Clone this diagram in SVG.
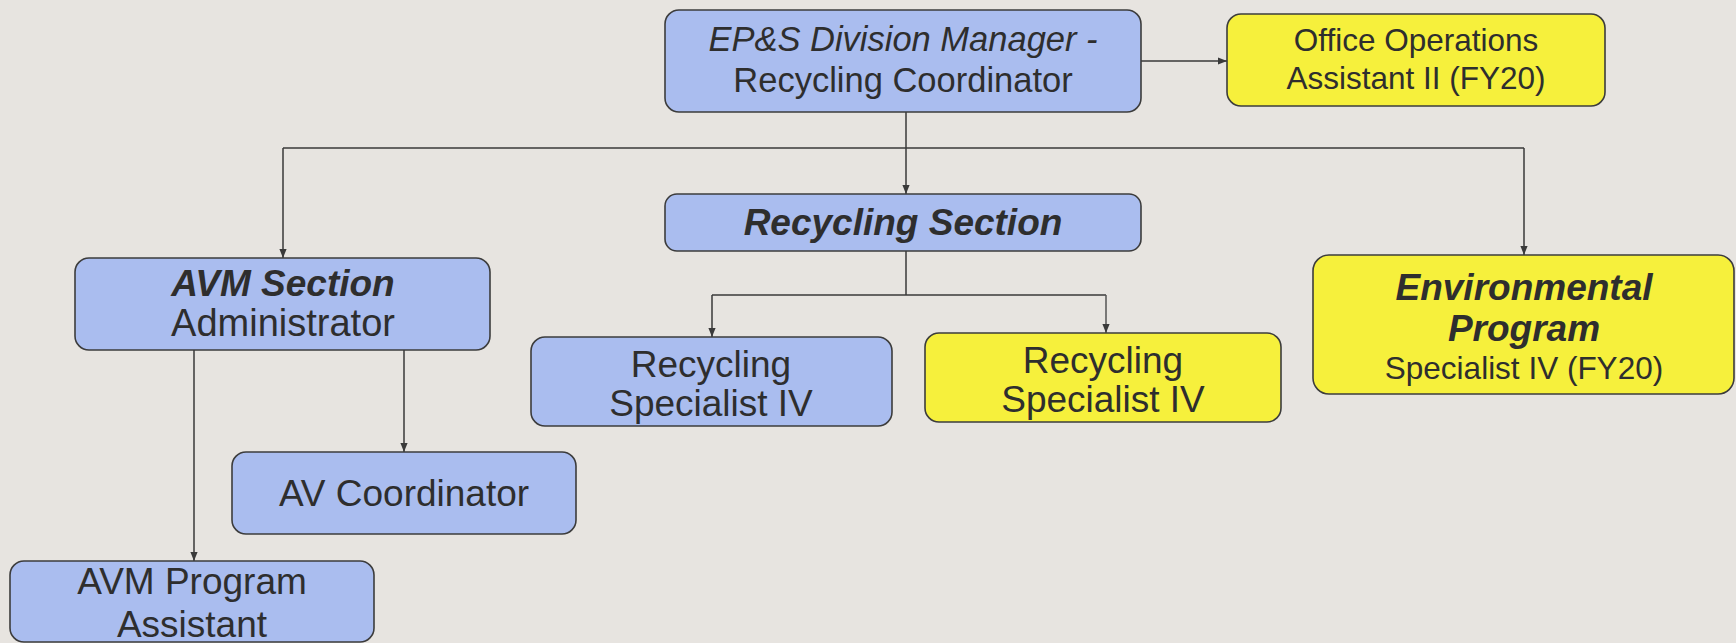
<svg xmlns="http://www.w3.org/2000/svg" width="1736" height="643" viewBox="0 0 1736 643">
<defs>
<marker id="ah" viewBox="0 0 10 10" refX="10" refY="5" markerWidth="9" markerHeight="10" markerUnits="userSpaceOnUse" orient="auto">
<path d="M0,1 L10,5 L0,9 Z" fill="#3a3a3a"/>
</marker>
<style>
.bg{fill:#e7e4e0}
.blue{fill:#aabdef;stroke:#3c3c3c;stroke-width:1.6}
.yel{fill:#f6f03c;stroke:#3c3c3c;stroke-width:1.6}
.t{font-family:"Liberation Sans",Arial,sans-serif;fill:#2e2e2e;text-anchor:middle}
.bi{font-weight:bold;font-style:italic}
.i{font-style:italic}
.ln{fill:none;stroke:#3a3a3a;stroke-width:1.5}
.la{fill:none;stroke:#3a3a3a;stroke-width:1.5;marker-end:url(#ah)}
</style>
</defs>
<rect class="bg" x="0" y="0" width="1736" height="643"/>
<g id="connectors">
<path class="la" d="M1141,61 H1227"/>
<path class="ln" d="M906,112 V148"/>
<path class="ln" d="M283,148 H1524"/>
<path class="la" d="M906,148 V194"/>
<path class="la" d="M283,148 V258"/>
<path class="la" d="M1524,148 V255"/>
<path class="ln" d="M906,251 V295"/>
<path class="ln" d="M712,295 H1106"/>
<path class="la" d="M712,295 V337"/>
<path class="la" d="M1106,295 V333" style="stroke:#555"/>
<path class="la" d="M194,350 V561"/>
<path class="la" d="M404,350 V452"/>
</g>
<g id="n-manager">
<rect class="blue" x="665" y="10" width="476" height="102" rx="14"/>
<text class="t i" x="903" y="51" font-size="34.5">EP&amp;S Division Manager -</text>
<text class="t" x="903" y="92" font-size="34.5">Recycling Coordinator</text>
</g>
<g id="n-office">
<rect class="yel" x="1227" y="14" width="378" height="92" rx="14"/>
<text class="t" x="1416" y="51" font-size="31.5">Office Operations</text>
<text class="t" x="1416" y="89" font-size="31.5">Assistant II (FY20)</text>
</g>
<g id="n-recsection">
<rect class="blue" x="665" y="194" width="476" height="57" rx="12"/>
<text class="t bi" x="903" y="235" font-size="37">Recycling Section</text>
</g>
<g id="n-avm">
<rect class="blue" x="75" y="258" width="415" height="92" rx="14"/>
<text class="t bi" x="283" y="296" font-size="37">AVM Section</text>
<text class="t" x="283" y="336" font-size="38">Administrator</text>
</g>
<g id="n-recspec1">
<rect class="blue" x="531" y="337" width="361" height="89" rx="14"/>
<text class="t" x="711" y="377" font-size="37">Recycling</text>
<text class="t" x="711" y="416" font-size="37">Specialist IV</text>
</g>
<g id="n-recspec2">
<rect class="yel" x="925" y="333" width="356" height="89" rx="14"/>
<text class="t" x="1103" y="373" font-size="37">Recycling</text>
<text class="t" x="1103" y="412" font-size="37">Specialist IV</text>
</g>
<g id="n-env">
<rect class="yel" x="1313" y="255" width="421" height="139" rx="16"/>
<text class="t bi" x="1524" y="300" font-size="37">Environmental</text>
<text class="t bi" x="1524" y="341" font-size="37">Program</text>
<text class="t" x="1524" y="379" font-size="31.5">Specialist IV (FY20)</text>
</g>
<g id="n-avcoord">
<rect class="blue" x="232" y="452" width="344" height="82" rx="14"/>
<text class="t" x="404" y="506" font-size="37">AV Coordinator</text>
</g>
<g id="n-avmassist">
<rect class="blue" x="10" y="561" width="364" height="81" rx="14"/>
<text class="t" x="192" y="594" font-size="37">AVM Program</text>
<text class="t" x="192" y="637" font-size="37">Assistant</text>
</g>
</svg>
